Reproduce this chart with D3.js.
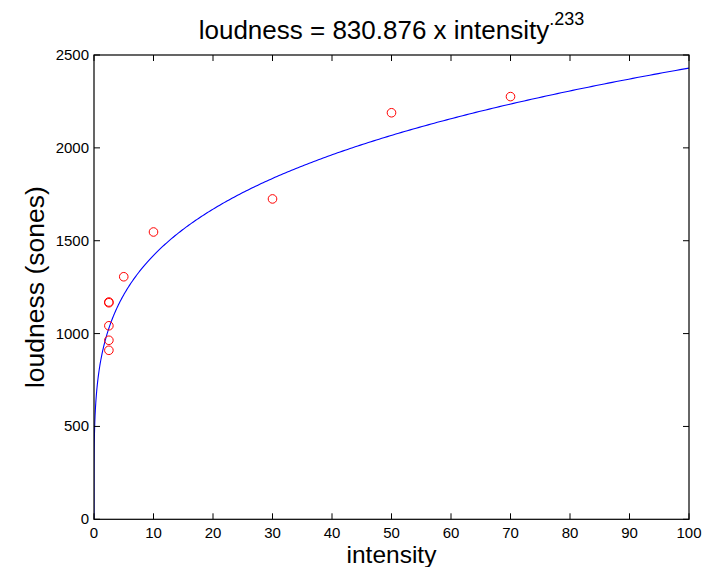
<!DOCTYPE html>
<html>
<head>
<meta charset="utf-8">
<script src="https://cdn.jsdelivr.net/npm/d3@7"></script>
<style>
  body { margin: 0; background: #fff; }
  text { font-family: "Liberation Sans", Arial, Helvetica, sans-serif; fill: #000; }
</style>
</head>
<body>
<div id="chart"></div>
<script>
let w = 719;
let h = 567;

// measured points
const intensity = [2.5, 2.5, 2.5, 2.5, 2.5, 5, 10, 30, 50, 70];
const loudness = [1166, 1170, 1042, 964, 910, 1306, 1547, 1725, 2189, 2276];

// fitted power law
const coefA = 830.876;
const coefB = 0.233;

const xTicks = [0, 10, 20, 30, 40, 50, 60, 70, 80, 90, 100];
const yTicks = [0, 500, 1000, 1500, 2000, 2500];

const plotL = 94, plotR = 689, plotT = 55, plotB = 519.3;

var x = d3.scaleLinear().domain([0, 100]).range([plotL, plotR]);
var y = d3.scaleLinear().domain([0, 2500]).range([plotB, plotT]);

var svg = d3.select("#chart").append("svg").attr("width", w).attr("height", h);

// curve samples, denser near zero
let curveX = [0];
for (let i = 1; i <= 400; i++) {
  curveX.push(100 * Math.pow(i / 400, 3));
}
const curve = curveX.map(v => [v, coefA * Math.pow(v, coefB)]);

var clipId = "plotclip";
svg.append("clipPath").attr("id", clipId)
  .append("rect").attr("x", plotL).attr("y", plotT)
  .attr("width", plotR - plotL).attr("height", plotB - plotT);

svg.append("path")
  .datum(curve)
  .attr("clip-path", "url(#" + clipId + ")")
  .attr("fill", "none")
  .attr("stroke", "#0000ff")
  .attr("stroke-width", 1.1)
  .attr("d", d3.line().x(d => x(d[0])).y(d => y(d[1])));

// points
svg.selectAll("circle.pt")
  .data(intensity.map((v, i) => [v, loudness[i]]))
  .enter()
  .append("circle")
  .attr("class", "pt")
  .attr("cx", d => x(d[0]))
  .attr("cy", d => y(d[1]))
  .attr("r", 4.3)
  .attr("fill", "none")
  .attr("stroke", "#ff0000")
  .attr("stroke-width", 1);

// axes, ticks pointing inward like matlab
var tickLen = 6;
var ax = svg.append("g").attr("stroke", "#000").attr("fill", "none");

ax.append("rect")
  .attr("x", plotL).attr("y", plotT)
  .attr("width", plotR - plotL).attr("height", plotB - plotT)
  .attr("stroke-width", 1.2);

xTicks.forEach(function (t) {
  ax.append("line").attr("x1", x(t)).attr("x2", x(t))
    .attr("y1", plotB).attr("y2", plotB - tickLen);
  ax.append("line").attr("x1", x(t)).attr("x2", x(t))
    .attr("y1", plotT).attr("y2", plotT + tickLen);
});
yTicks.forEach(function (t) {
  ax.append("line").attr("y1", y(t)).attr("y2", y(t))
    .attr("x1", plotL).attr("x2", plotL + tickLen);
  ax.append("line").attr("y1", y(t)).attr("y2", y(t))
    .attr("x1", plotR).attr("x2", plotR - tickLen);
});

// tick labels
svg.selectAll("text.xt")
  .data(xTicks)
  .enter()
  .append("text")
  .attr("class", "xt")
  .attr("x", d => x(d))
  .attr("y", plotB + 19)
  .attr("text-anchor", "middle")
  .style("font-size", "15px")
  .text(d => d);

svg.selectAll("text.yt")
  .data(yTicks)
  .enter()
  .append("text")
  .attr("class", "yt")
  .attr("x", plotL - 5)
  .attr("y", d => y(d) + 5)
  .attr("text-anchor", "end")
  .style("font-size", "15px")
  .text(d => d);

// axis labels
svg.append("text")
  .attr("x", (plotL + plotR) / 2)
  .attr("y", 563)
  .attr("text-anchor", "middle")
  .style("font-size", "24.5px")
  .text("intensity");

svg.append("text")
  .attr("transform", "translate(44," + ((plotT + plotB) / 2) + ") rotate(-90)")
  .attr("text-anchor", "middle")
  .style("font-size", "26.5px")
  .text("loudness (sones)");

// title with superscript exponent
var title = svg.append("text")
  .attr("x", (plotL + plotR) / 2)
  .attr("y", 39)
  .attr("text-anchor", "middle")
  .style("font-size", "26px");
title.append("tspan").text("loudness = " + coefA + " x intensity");
title.append("tspan")
  .attr("dy", -14)
  .style("font-size", "18px")
  .text(String(coefB).replace(/^0/, ""));
</script>
</body>
</html>
